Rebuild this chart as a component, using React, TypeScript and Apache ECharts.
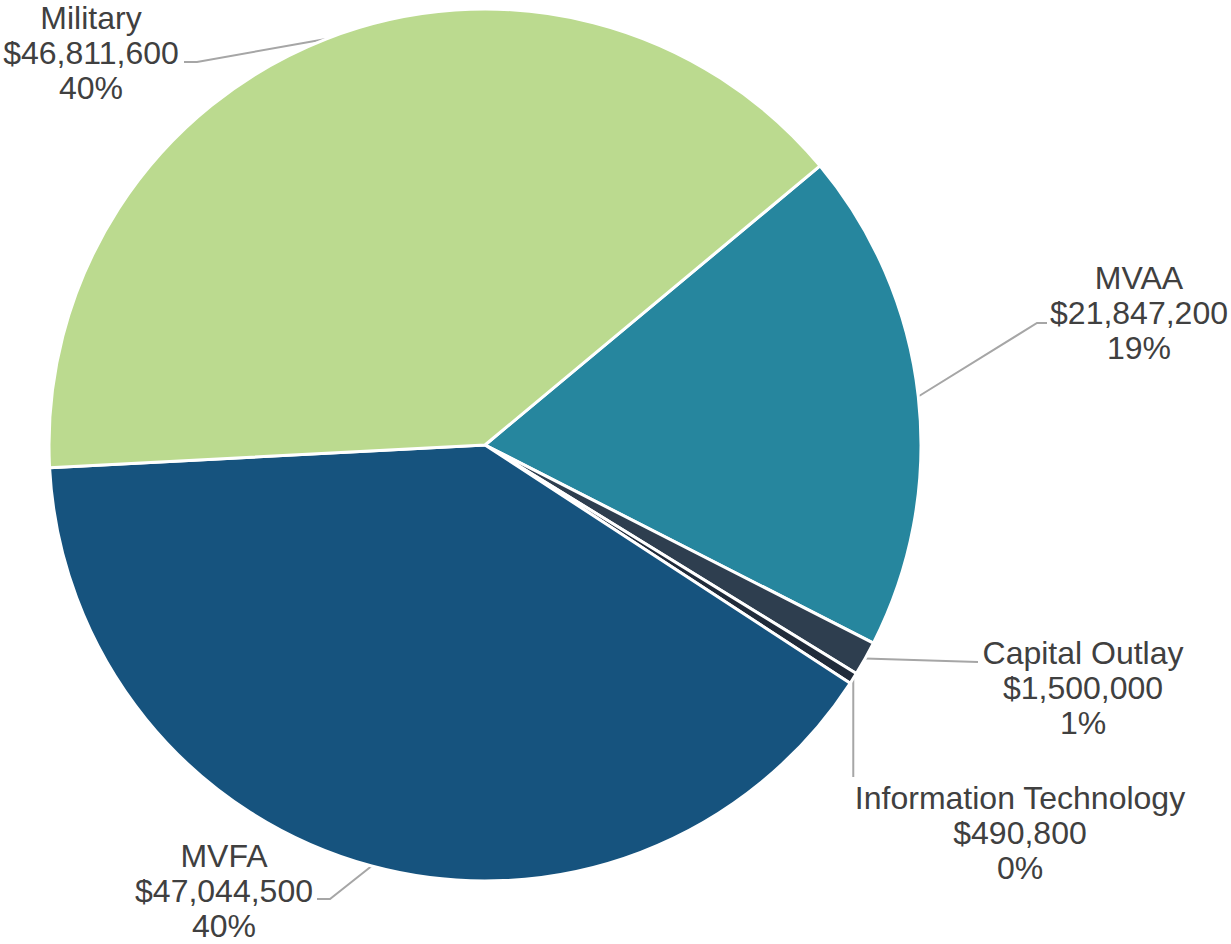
import React, { useEffect, useRef } from "react";
import * as echarts from "echarts";

const categories = ["MVAA", "Capital Outlay", "Information Technology", "MVFA", "Military"];
const amounts = [21847200, 1500000, 490800, 47044500, 46811600];
const sliceColors = ["#26869E", "#2E3E4F", "#202B3A", "#16537E", "#BBDA8F"];

// label layout (centres of the label blocks) and leader-line bends, in pixels
const labelCenters: number[][] = [
  [1139, 313],
  [1083, 688],
  [1020, 833],
  [224, 891],
  [91, 53],
];
const lineBends: (number | null)[][][] = [
  [[1037, 323], [1047, 323]],
  [[978, 662], [978, 662]],
  [[null, 777], [null, 777]],
  [[330, 899], [317, 899]],
  [[197, 62], [184, 62]],
];

export default function App() {
  const ref = useRef<HTMLDivElement>(null);
  useEffect(() => {
    if (!ref.current) return;
    const chart = echarts.init(ref.current, null, { renderer: "svg" });
    const data = categories.map((name, i) => ({
      name,
      value: amounts[i],
      itemStyle: { color: sliceColors[i] },
    }));
    chart.setOption({
      animation: false,
      backgroundColor: "#ffffff",
      series: [
        {
          type: "pie",
          center: [485, 445],
          radius: 436,
          startAngle: 39.8,
          clockwise: true,
          avoidLabelOverlap: false,
          silent: true,
          data,
          itemStyle: { borderColor: "#ffffff", borderWidth: 3 },
          emphasis: { disabled: true },
          label: {
            show: true,
            position: "outside",
            color: "#404040",
            fontFamily: "'Liberation Sans', Arial, sans-serif",
            fontSize: 32,
            lineHeight: 35,
            align: "center",
            formatter: (p: any) =>
              `${p.name}\n$${Number(p.value).toLocaleString("en-US")}\n${Math.round(p.percent)}%`,
          },
          labelLine: {
            show: true,
            length: 20,
            length2: 10,
            lineStyle: { color: "#A6A6A6", width: 2 },
          },
          labelLayout: (params: any) => {
            const i = params.dataIndex;
            const c = labelCenters[i];
            const pts = params.labelLinePoints;
            const out: any = {
              x: c[0],
              y: c[1],
              align: "center",
              verticalAlign: "middle",
            };
            if (pts && pts.length) {
              const start = pts[0];
              const bends = lineBends[i].map((b) => [
                b[0] == null ? start[0] : (b[0] as number),
                b[1] == null ? start[1] : (b[1] as number),
              ]);
              out.labelLinePoints = [start, ...bends];
            }
            return out;
          },
        },
      ],
    });
    return () => chart.dispose();
  }, []);
  return (
    <div
      ref={ref}
      style={{ position: "absolute", left: 0, top: 0, width: 1231, height: 944 }}
    />
  );
}
